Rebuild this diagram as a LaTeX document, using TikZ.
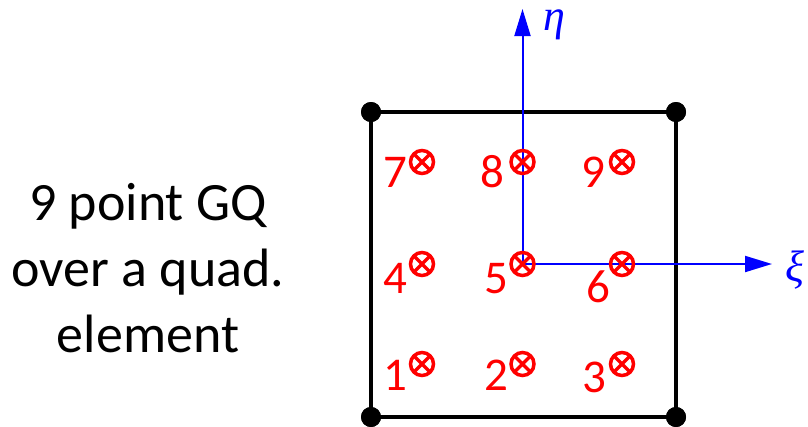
\documentclass[tikz,border=0pt]{standalone}
\usepackage{fontspec}
\setmainfont{Carlito}
\newfontfamily\greekserif{Liberation Serif}
\usetikzlibrary{arrows.meta,calc}
\begin{document}
\begin{tikzpicture}[x=1pt,y=-1pt,
  gpt/.style={circle, draw=red, line width=3.5pt, minimum size=23pt, inner sep=0pt,
    path picture={\draw[red,line width=3.5pt]
      (path picture bounding box.north west) -- (path picture bounding box.south east)
      (path picture bounding box.north east) -- (path picture bounding box.south west);}},
  num/.style={text=red, font=\fontsize{47}{56}\selectfont, inner sep=0pt, anchor=base east},
  corner/.style={circle, fill=black, minimum size=20pt, inner sep=0pt},
  edgeline/.style={line width=3.5pt, black},
  axisline/.style={blue, line width=2pt, -{Triangle[length=27pt,width=16pt]}},
  axlab/.style={text=blue, font=\greekserif\itshape\fontsize{44}{52}\selectfont, inner sep=0pt},
  caption/.style={font=\fontsize{54}{66}\selectfont, align=center, inner sep=0pt}]
\useasboundingbox (0,0) rectangle (808,426);

% caption
\node[caption] (cap) at (148,268) {9 point GQ\\over a quad.\\element};

% element corners
\node[corner] (c1) at (371,417) {};
\node[corner] (c2) at (676,417) {};
\node[corner] (c3) at (676,112) {};
\node[corner] (c4) at (371,112) {};
\draw[edgeline] (c1.center) -- (c2.center) -- (c3.center) -- (c4.center) -- cycle;
\node[corner] at (c1) {};
\node[corner] at (c2) {};
\node[corner] at (c3) {};
\node[corner] at (c4) {};

% axes
\coordinate (o) at (522.5,264);
\coordinate (etatip) at (522.5,9);
\coordinate (xitip) at (772,264);
\draw[axisline] (o) -- (etatip);
\draw[axisline] (o) -- (xitip);
\node[axlab, anchor=base west] (eta) at (543,30) {η};
\node[axlab, anchor=base west] (xi) at (785,281) {ξ};

% Gauss points
\node[gpt] (g1) at (422,364) {};
\node[gpt] (g2) at (522.5,364) {};
\node[gpt] (g3) at (622,364) {};
\node[gpt] (g4) at (422,264) {};
\node[gpt] (g5) at (522.5,264) {};
\node[gpt] (g6) at (622,264) {};
\node[gpt] (g7) at (422,162) {};
\node[gpt] (g8) at (522.5,162) {};
\node[gpt] (g9) at (622,162) {};

\node[num] (n1) at ($(g1.center)+(-14,26)$) {1};
\node[num] (n2) at ($(g2.center)+(-14,26)$) {2};
\node[num] (n3) at ($(g3.center)+(-15,28)$) {3};
\node[num] (n4) at ($(g4.center)+(-14,29)$) {4};
\node[num] (n5) at ($(g5.center)+(-14,29)$) {5};
\node[num] (n6) at ($(g6.center)+(-11,38)$) {6};
\node[num] (n7) at ($(g7.center)+(-14,25)$) {7};
\node[num] (n8) at ($(g8.center)+(-18,25)$) {8};
\node[num] (n9) at ($(g9.center)+(-16,25)$) {9};
\end{tikzpicture}
\end{document}
